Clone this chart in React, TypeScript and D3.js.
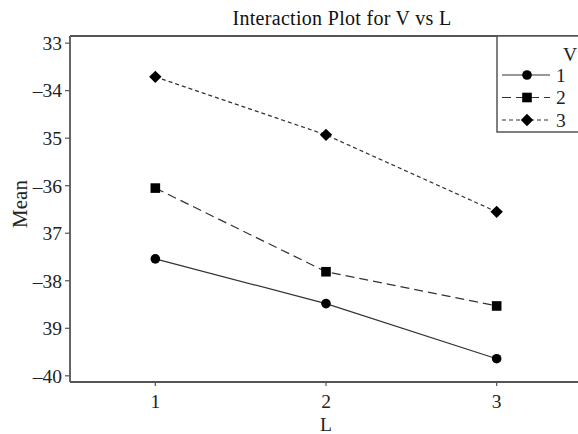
import * as d3 from "d3";

const levels = [1, 2, 3];
const seriesNames = ["1", "2", "3"];
const meanV1 = [-37.54, -38.48, -39.64];
const meanV2 = [-36.05, -37.81, -38.53];
const meanV3 = [-33.71, -34.93, -36.55];
const yTickValues = [-33, -34, -35, -36, -37, -38, -39, -40];
const yTickLabels = ["33", "\u201334", "35", "\u201336", "37", "\u201338", "39", "\u201340"];

const W = 578;
const H = 434;
const margin = { top: 36, right: -4, bottom: 52, left: 70 };
const font = "'Liberation Serif', 'DejaVu Serif', serif";

type Style = { dash: string | null; marker: "circle" | "square" | "diamond" };
const styles: Style[] = [
  { dash: null, marker: "circle" },
  { dash: "9,5", marker: "square" },
  { dash: "4,3", marker: "diamond" },
];

function Marker({ kind, x, y }: { kind: Style["marker"]; x: number; y: number }) {
  if (kind === "circle") return <circle cx={x} cy={y} r={4.8} fill="#000" />;
  if (kind === "square") return <rect x={x - 4.8} y={y - 4.8} width={9.6} height={9.6} fill="#000" />;
  const s = 6.2;
  return <path d={`M${x},${y - s}L${x + s},${y}L${x},${y + s}L${x - s},${y}Z`} fill="#000" />;
}

export default function App() {
  const x = d3.scaleLinear().domain([0.5, 3.5]).range([margin.left, W - margin.right]);
  const y = d3.scaleLinear().domain([-32.85, -40.13]).range([margin.top, H - margin.bottom]);
  const series = [meanV1, meanV2, meanV3];
  const line = d3.line<number>().x((_, i) => x(levels[i])).y(d => y(d));
  const x0 = margin.left;
  const y1 = H - margin.bottom;

  return (
    <svg width={W} height={H} style={{ position: "absolute", left: 0, top: 0, background: "#fff" }} fontFamily={font}>
      <text x={342} y={25} textAnchor="middle" fontSize={20} letterSpacing={0.3} fill="#111">Interaction Plot for V vs L</text>

      {/* frame */}
      <line x1={x0} y1={margin.top} x2={W} y2={margin.top} stroke="#555" strokeWidth={1.8} />
      <line x1={x0} y1={margin.top} x2={x0} y2={y1} stroke="#555" strokeWidth={1.8} />
      <line x1={x0} y1={y1} x2={W} y2={y1} stroke="#555" strokeWidth={1.8} />

      {yTickValues.map((v, i) => (
        <g key={v}>
          <line x1={x0 - 5} x2={x0} y1={y(v)} y2={y(v)} stroke="#555" strokeWidth={1.2} />
          <text x={x0 - 8} y={y(v)} dy="0.35em" textAnchor="end" fontSize={19.5} fill="#222">{yTickLabels[i]}</text>
        </g>
      ))}
      {levels.map(l => (
        <g key={l}>
          <line x1={x(l)} x2={x(l)} y1={y1} y2={y1 + 4} stroke="#555" strokeWidth={1.2} />
          <text x={x(l)} y={y1 + 26} textAnchor="middle" fontSize={19.5} fill="#222">{l}</text>
        </g>
      ))}
      <text x={x(2)} y={y1 + 49} textAnchor="middle" fontSize={19.5} fill="#222">L</text>
      <text transform={`translate(27,${(margin.top + y1) / 2 - 5}) rotate(-90)`} textAnchor="middle" fontSize={21} fill="#222">Mean</text>

      {series.map((s, i) => (
        <g key={i}>
          <path d={line(s) || ""} fill="none" stroke="#333" strokeWidth={1.2} strokeDasharray={styles[i].dash || undefined} />
          {s.map((v, j) => <Marker key={j} kind={styles[i].marker} x={x(levels[j])} y={y(v)} />)}
        </g>
      ))}

      {/* legend */}
      <rect x={497} y={margin.top} width={100} height={96} fill="#fff" stroke="#555" strokeWidth={1.5} />
      <text x={570} y={61} textAnchor="middle" fontSize={19.5} fill="#222">V</text>
      {seriesNames.map((n, i) => {
        const ly = 75 + i * 22.5;
        return (
          <g key={n}>
            <line x1={502} x2={550} y1={ly} y2={ly} stroke="#333" strokeWidth={1.2} strokeDasharray={styles[i].dash || undefined} />
            <Marker kind={styles[i].marker} x={527} y={ly} />
            <text x={556} y={ly} dy="0.35em" fontSize={19.5} fill="#222">{n}</text>
          </g>
        );
      })}
    </svg>
  );
}
